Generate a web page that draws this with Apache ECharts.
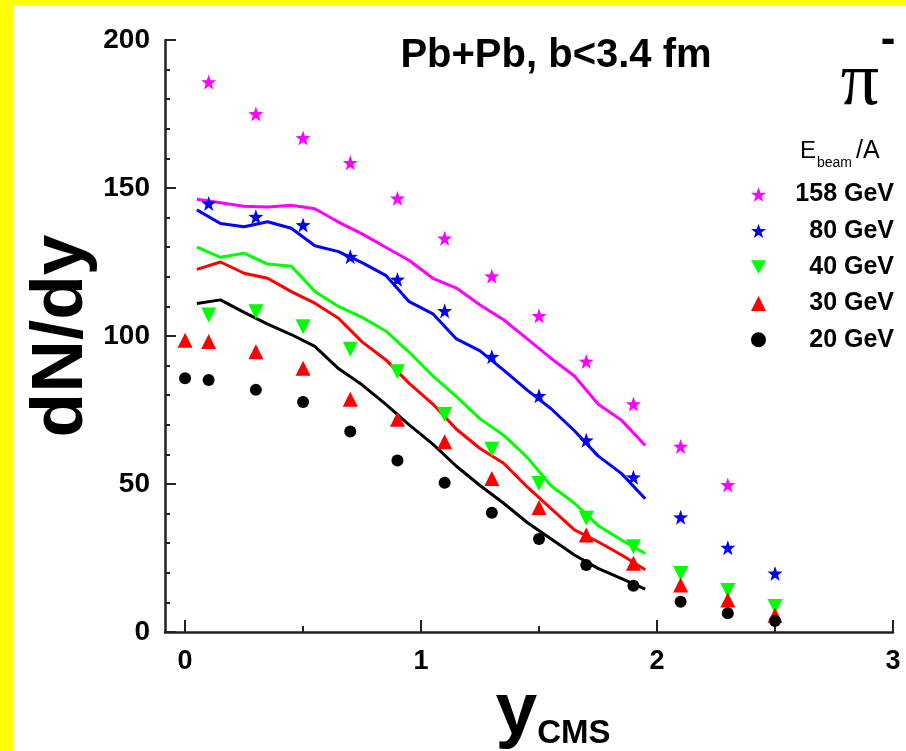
<!DOCTYPE html>
<html>
<head>
<meta charset="utf-8">
<script src="https://cdn.jsdelivr.net/npm/echarts@6/dist/echarts.min.js"></script>
<style>
html, body { margin: 0; padding: 0; background: #ffff00; width: 906px; height: 751px; overflow: hidden; }
#main { position: absolute; left: 13px; top: 5px; width: 893px; height: 746px; background: #ffffff; }
</style>
</head>
<body>
<div id="main"></div>
<script>
// ---- data ----
const seriesNames = ['158 GeV', '80 GeV', '40 GeV', '30 GeV', '20 GeV'];
const seriesColors = ['#ff00ff', '#0000ff', '#00ff00', '#ff0000', '#000000'];

// measured points (rapidity)
const pointX = [0, 0.1, 0.3, 0.5, 0.7, 0.9, 1.1, 1.3, 1.5, 1.7, 1.9, 2.1, 2.3, 2.5];
const p158 = [null, 185.8, 175.0, 166.9, 158.5, 146.5, 133.0, 120.2, 106.8, 91.4, 77.0, 62.7, 49.7, null];
const p80  = [null, 144.8, 140.3, 137.5, 126.8, 119.1, 108.5, 93.0, 79.8, 64.8, 52.3, 38.8, 28.5, 19.8];
const p40  = [null, 107.1, 108.2, 103.1, 95.5, 87.9, 73.5, 61.7, 50.2, 38.4, 28.8, 19.8, 14.0, 8.6];
const p30  = [98.6, 98.1, 94.7, 89.1, 78.6, 71.9, 64.3, 51.9, 42.1, 32.8, 23.2, 15.9, 10.8, 5.7];
const p20  = [85.7, 85.1, 81.8, 77.7, 67.7, 57.9, 50.4, 40.3, 31.4, 22.6, 15.6, 10.2, 6.3, 3.7];

// model curves
const lineX = [0.05, 0.15, 0.25, 0.35, 0.45, 0.55, 0.65, 0.75, 0.85, 0.95, 1.05, 1.15, 1.25, 1.35, 1.45, 1.55, 1.65, 1.75, 1.85, 1.95];
const l158 = [146.2, 145.0, 143.8, 143.6, 144.2, 143.0, 138.5, 134.5, 130.0, 125.5, 119.5, 116.2, 110.5, 105.5, 99.0, 92.5, 86.5, 77.0, 71.5, 63.0];
const l80  = [142.6, 138.0, 136.9, 138.6, 136.4, 130.5, 128.5, 124.8, 120.5, 111.6, 107.5, 99.0, 95.0, 88.5, 81.7, 75.5, 68.0, 59.5, 53.5, 45.0];
const l40  = [130.0, 126.6, 128.0, 124.3, 123.6, 115.0, 110.0, 106.3, 101.7, 94.5, 86.5, 79.5, 72.0, 66.5, 59.0, 49.5, 43.5, 36.0, 31.0, 26.5];
const l30  = [122.5, 125.0, 121.2, 119.5, 115.0, 111.1, 106.0, 98.0, 92.0, 84.0, 77.0, 68.5, 62.0, 57.0, 49.0, 41.8, 34.5, 30.5, 26.0, 21.0];
const l20  = [111.0, 112.2, 108.0, 104.0, 100.5, 96.5, 89.0, 83.5, 77.0, 70.0, 63.5, 56.0, 49.5, 43.5, 37.0, 31.5, 26.0, 21.5, 18.0, 14.5];

const xMajorTicks = [0, 1, 2, 3];
const xMinorTicks = [0.5, 1.5, 2.5];

// ---- build ----
const STAR = 'path://M0,-10 L2.35,-3.24 L9.51,-3.09 L3.80,1.24 L5.88,8.09 L0,4 L-5.88,8.09 L-3.80,1.24 L-9.51,-3.09 L-2.35,-3.24 Z';
const TRI_DOWN = 'path://M0,0 L10,0 L5,9 Z';
const pointSets = [p158, p80, p40, p30, p20];
const lineSets = [l158, l80, l40, l30, l20];
const symbols = [STAR, STAR, TRI_DOWN, 'triangle', 'circle'];
const sizes = [15, 15, 15, 15, 12];

const FONT = '"Liberation Sans", Arial, Helvetica, sans-serif';

function pairs(xs, ys) {
  const out = [];
  xs.forEach((x, i) => { if (ys[i] != null) out.push([x, ys[i]]); });
  return out;
}

const series = [];
seriesNames.forEach((name, i) => {
  series.push({
    name: name + ' model',
    type: 'line',
    xAxisIndex: 0,
    data: pairs(lineX, lineSets[i]),
    showSymbol: false,
    symbol: 'none',
    lineStyle: { color: seriesColors[i], width: 3 },
    z: 2,
    silent: true
  });
});
seriesNames.forEach((name, i) => {
  series.push({
    name: name,
    type: 'scatter',
    xAxisIndex: 0,
    data: pairs(pointX, pointSets[i]),
    symbol: symbols[i],
    symbolSize: sizes[i],
    itemStyle: { color: seriesColors[i], opacity: 1 },
    z: 3
  });
});

const chart = echarts.init(document.getElementById('main'), null, { renderer: 'canvas' });
const axisColor = '#222222';

chart.setOption({
  animation: false,
  backgroundColor: 'transparent',
  textStyle: { fontFamily: FONT },
  grid: { left: 152, right: 13, top: 35, bottom: 119, containLabel: false, outerBoundsMode: 'none' },
  xAxis: [
    {
      type: 'value', min: -0.085, max: 3,
      axisLine: { show: true, onZero: false, lineStyle: { color: axisColor, width: 2.5 } },
      axisTick: { show: true, inside: true, length: 12, customValues: xMajorTicks, lineStyle: { color: axisColor, width: 2 } },
      axisLabel: { show: true, customValues: xMajorTicks, margin: 16, color: '#000', fontSize: 27, fontWeight: 'bold', fontFamily: FONT },
      splitLine: { show: false },
      name: '{y|y}{s|CMS}',
      nameLocation: 'middle',
      nameGap: 44,
      nameMoveOverlap: false,
      nameTextStyle: {
        padding: [0, 0, 0, 48],
        rich: {
          y: { fontSize: 75, fontWeight: 'bold', fontFamily: FONT, color: '#000', lineHeight: 74 },
          s: { fontSize: 33, fontWeight: 'bold', fontFamily: FONT, color: '#000', lineHeight: 14, verticalAlign: 'bottom' }
        }
      }
    },
    {
      type: 'value', min: -0.085, max: 3, position: 'bottom',
      axisLine: { show: false, onZero: false },
      axisTick: { show: true, inside: true, length: 6, customValues: xMinorTicks, lineStyle: { color: axisColor, width: 2 } },
      axisLabel: { show: false },
      splitLine: { show: false }
    }
  ],
  yAxis: {
    type: 'value', min: 0, max: 200, interval: 50,
    axisLine: { show: true, onZero: false, lineStyle: { color: axisColor, width: 2.5 } },
    axisTick: { show: true, inside: true, length: 11, lineStyle: { color: axisColor, width: 2 } },
    minorTick: { show: true, splitNumber: 5, length: 5, lineStyle: { color: axisColor, width: 2 } },
    axisLabel: { margin: 15, color: '#000', fontSize: 28, fontWeight: 'bold', fontFamily: FONT },
    splitLine: { show: false },
    name: 'dN/dy',
    nameLocation: 'middle',
    nameRotate: 90,
    nameGap: 67,
    nameMoveOverlap: false,
    nameTextStyle: { fontSize: 73, fontWeight: 'bold', fontFamily: FONT, color: '#000' }
  },
  legend: {
    orient: 'vertical',
    left: 733,
    top: 172,
    itemWidth: 15,
    itemHeight: 15,
    itemGap: 11.3,
    data: seriesNames.map((n, i) => ({ name: n, icon: symbols[i] })),
    selectedMode: false,
    formatter: function (name) { return '{t|' + name + '}'; },
    textStyle: {
      rich: { t: { width: 123, align: 'right', fontSize: 25, lineHeight: 25, fontWeight: 'bold', fontFamily: FONT, color: '#000' } }
    }
  },
  graphic: [
    { type: 'text', x: 543, y: 51, style: { text: 'Pb+Pb, b<3.4 fm', fontSize: 40, fontWeight: 'bold', fontFamily: FONT, fill: '#000', align: 'center', verticalAlign: 'middle' } },
    { type: 'text', x: 847, y: 79, style: { text: 'π', fontSize: 76, fontFamily: '"Liberation Serif", "Times New Roman", serif', fill: '#000', align: 'center', verticalAlign: 'middle' } },
    { type: 'text', x: 875, y: 36, style: { text: '-', fontSize: 44, fontWeight: 'bold', fontFamily: FONT, fill: '#000', align: 'center', verticalAlign: 'middle' } },
    { type: 'text', x: 803, y: 146, style: { text: 'E', fontSize: 24, fontFamily: FONT, fill: '#000', align: 'right', verticalAlign: 'middle' } },
    { type: 'text', x: 804, y: 158, style: { text: 'beam', fontSize: 14, fontFamily: FONT, fill: '#000', align: 'left', verticalAlign: 'middle' } },
    { type: 'text', x: 843, y: 146, style: { text: '/A', fontSize: 25, fontFamily: FONT, fill: '#000', align: 'left', verticalAlign: 'middle' } }
  ],
  series: series
});
</script>
</body>
</html>
